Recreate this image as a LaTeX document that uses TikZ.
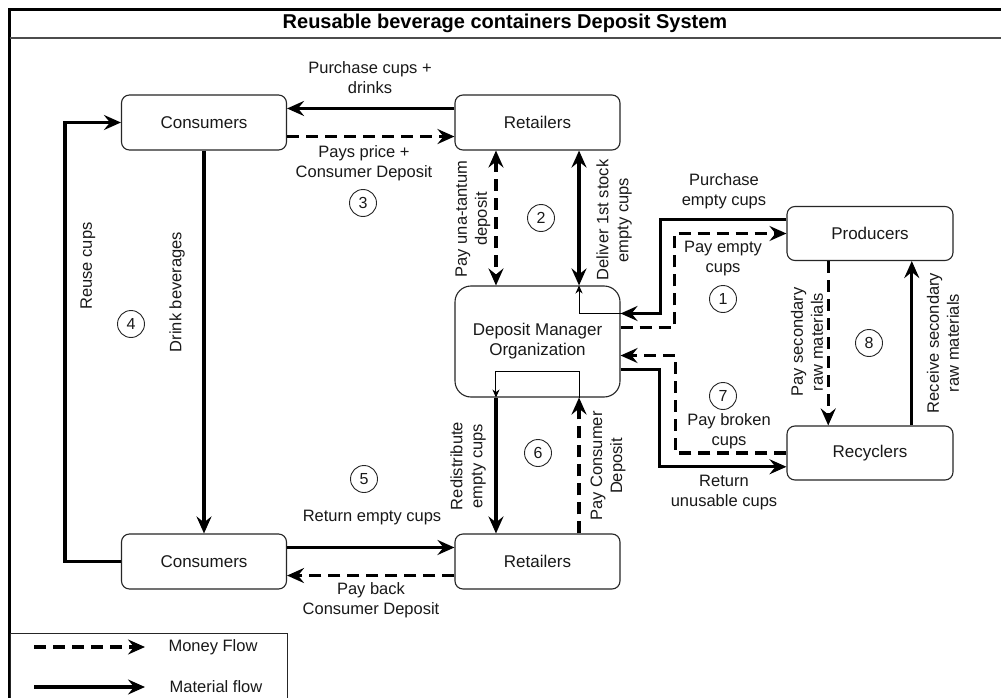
\documentclass[tikz,border=0pt]{standalone}
\usepackage{fontspec}
\setmainfont{Liberation Sans}
\usetikzlibrary{arrows.meta,calc}
\begin{document}
\begin{tikzpicture}[x=1pt,y=-1pt,
  >={Stealth[length=17pt,width=15pt,inset=6pt]},
  box/.style={draw=black!85, line width=1.1pt, rounded corners=8pt, text=black!90,
    font=\fontsize{17}{20}\selectfont, inner sep=0pt, minimum width=165pt, minimum height=55pt},
  lbl/.style={font=\fontsize{16.5}{20}\selectfont, align=center, inner sep=0pt, text=black!90},
  mat/.style={line width=3.4pt, ->},
  mon/.style={line width=3.4pt, dash pattern=on 12pt off 7pt, ->},
  num/.style={draw=black!85, circle, line width=0.9pt, minimum size=27pt, inner sep=0pt,
    font=\fontsize{16}{16}\selectfont, text=black!90},
  thinarr/.style={line width=1pt, -{Stealth[length=8pt,width=7pt,inset=2.5pt]}}
]
\clip (0,0) rectangle (1001,698);
\useasboundingbox (0,0) rectangle (1001,698);
\fill[white] (0,0) rectangle (1001,698);

% frame and title
\draw[line width=2.5pt] (9.5,720) -- (9.5,9.5) -- (1010,9.5);
\draw[line width=1.5pt, black!70] (9.5,38) -- (1010,38);
\node[font=\bfseries\fontsize{20}{22}\selectfont] (title) at (505,23) {Reusable beverage containers Deposit System};

% nodes
\node[box] (con1) at (204,122.5) {Consumers};
\node[box] (ret1) at (537.5,122.5) {Retailers};
\node[box, minimum height=111pt, rounded corners=16pt, align=center] (dmo) at (537.5,341.5) {Deposit Manager\\Organization};
\node[box, minimum width=166pt, minimum height=54pt] (prod) at (870,233.5) {Producers};
\node[box, minimum width=166pt, minimum height=54pt] (rec) at (870,453) {Recyclers};
\node[box] (con2) at (204,561.5) {Consumers};
\node[box] (ret2) at (537.5,561.5) {Retailers};

% anchor points
\coordinate (dn1) at ($(dmo.north west)!.25!(dmo.north east)$);
\coordinate (dn3) at ($(dmo.north west)!.75!(dmo.north east)$);
\coordinate (ds1) at ($(dmo.south west)!.25!(dmo.south east)$);
\coordinate (ds3) at ($(dmo.south west)!.75!(dmo.south east)$);
\coordinate (de1) at ($(dmo.north east)!.25!(dmo.south east)$);
\coordinate (de2) at ($(dmo.north east)!.375!(dmo.south east)$);
\coordinate (de3) at ($(dmo.north east)!.625!(dmo.south east)$);
\coordinate (de4) at ($(dmo.north east)!.75!(dmo.south east)$);
\coordinate (pw1) at ($(prod.north west)!.25!(prod.south west)$);
\coordinate (rw3) at ($(rec.north west)!.75!(rec.south west)$);
\coordinate (ps1) at ($(prod.south west)!.25!(prod.south east)$);
\coordinate (ps3) at ($(prod.south west)!.75!(prod.south east)$);

% top consumers / retailers
\draw[mat] ($(ret1.north west)!.25!(ret1.south west)$) -- ($(con1.north east)!.25!(con1.south east)$);
\draw[mon] ($(con1.north east)!.75!(con1.south east)$) -- ($(ret1.north west)!.75!(ret1.south west)$);

% retailers <-> DMO
\draw[mon, <->] (dn1 |- ret1.south) -- (dn1);
\draw[mat, <->] (dn3 |- ret1.south) -- (dn3);
\draw[thinarr] (de1) -| (dn3);

% producers / DMO
\draw[mat] (pw1) -| ([xshift=40pt]de1) -- (de1);
\draw[mon] (de2) -| ([xshift=-112pt]prod.west) -- (prod.west);
\draw[mon] (rec.west) -| ([xshift=55pt]de3) -- (de3);
\draw[mat] (de4) -| ([xshift=-127pt]rw3) -- (rw3);

% producers / recyclers
\draw[mon] (ps1) -- (ps1 |- rec.north);
\draw[mat] (ps3 |- rec.north) -- (ps3);

% consumers loop
\draw[mat] (con1.south) -- (con2.north);
\draw[mat] (con2.west) -| ([xshift=-56pt]con1.west) -- (con1.west);

% bottom consumers / retailers
\draw[mat] ($(con2.north east)!.25!(con2.south east)$) -- ($(ret2.north west)!.25!(ret2.south west)$);
\draw[mon] ($(ret2.north west)!.75!(ret2.south west)$) -- ($(con2.north east)!.75!(con2.south east)$);

% retailers bottom / DMO
\draw[mat] (ds1) -- (ds1 |- ret2.north);
\draw[mon] (ds3 |- ret2.north) -- (ds3);
\draw[thinarr] (ds3) -- ++(0,-26) -| (ds1);

% labels
\node[lbl] (l1) at (370,78) {Purchase cups +\\drinks};
\node[lbl] (l2) at (364,163) {Pays price +\\Consumer Deposit};
\node[num] (n3) at (363,203) {3};
\node[lbl, rotate=90] (l3) at (473,219) {Pay una-tantum\\deposit};
\node[num] (n2) at (541,218) {2};
\node[lbl, rotate=90] (l4) at (614,220) {Deliver 1st stock\\empty cups};
\node[lbl] (l5) at (724,191) {Purchase\\empty cups};
\node[lbl] (l6) at (723,259) {Pay empty\\cups};
\node[num] (n1) at (723,299) {1};
\node[num] (n7) at (723,396) {7};
\node[lbl] (l7) at (729,431) {Pay broken\\cups};
\node[lbl] (l8) at (724,493) {Return\\unusable cups};
\node[lbl, rotate=90] (l9) at (807,342) {Pay secondary\\raw materials};
\node[num] (n8) at (869,343) {8};
\node[lbl, rotate=90] (l10) at (943,343) {Receive secondary\\raw materials};
\node[lbl, rotate=90] (l11) at (177,292) {Drink beverages};
\node[lbl, rotate=90] (l12) at (88,266) {Reuse cups};
\node[num] (n4) at (131,324) {4};
\node[num] (n5) at (364,479) {5};
\node[lbl] (l13) at (372,518) {Return empty cups};
\node[lbl] (l14) at (371,600) {Pay back\\Consumer Deposit};
\node[lbl, rotate=90] (l15) at (468,466) {Redistribute\\empty cups};
\node[lbl, rotate=90] (l16) at (608,466) {Pay Consumer\\Deposit};
\node[num] (n6) at (538,453) {6};

% legend
\draw[line width=1pt, black!85] (10,720) -- (10,633) -- (287,633) -- (287,720);
\coordinate (lg1a) at (34,647);
\coordinate (lg1b) at (145,647);
\coordinate (lg2a) at (34,687);
\coordinate (lg2b) at (145,687);
\draw[mon] (lg1a) -- (lg1b);
\draw[mat] (lg2a) -- (lg2b);
\node[lbl] (lm) at (213,647) {Money Flow};
\node[lbl] (lf) at (216,687) {Material flow};
\end{tikzpicture}
\end{document}
